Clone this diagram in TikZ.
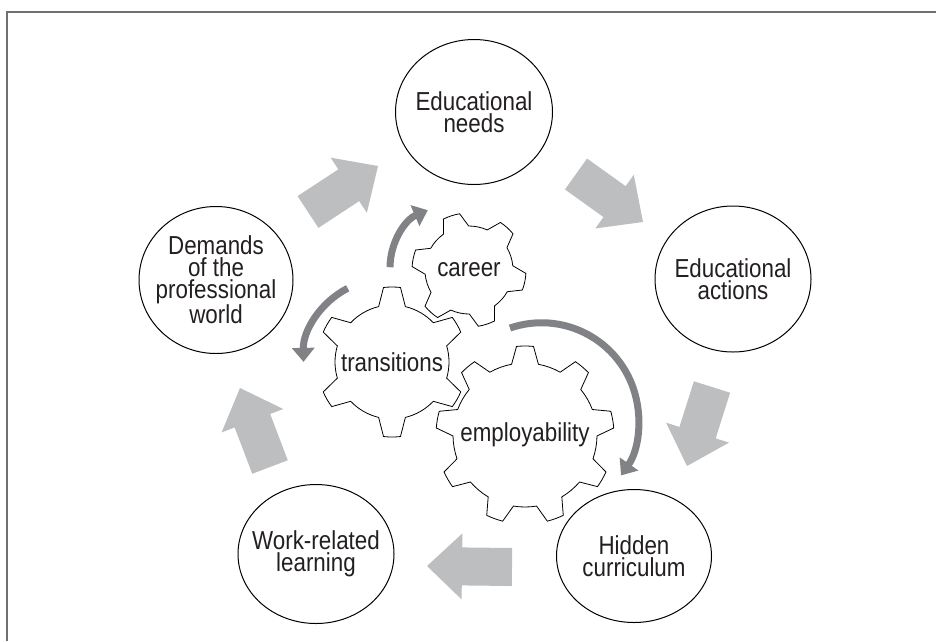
\documentclass[tikz,border=0pt]{standalone}
\usepackage{fontspec}
\setmainfont{Liberation Sans}[FakeStretch=0.86]
\usepackage{tikz}
\usetikzlibrary{arrows.meta,calc,shapes.geometric}

\definecolor{blockgray}{RGB}{189,190,192}
\definecolor{turngray}{RGB}{128,130,133}
\definecolor{inkgray}{RGB}{35,31,32}
\definecolor{framegray}{RGB}{112,112,112}

\newcommand{\stagefont}{\fontsize{26}{22}\selectfont}

% fat arrow from coordinate #1 (tail) to coordinate #2 (tip)
\newcommand{\blockarrow}[2]{%
  \coordinate (hb) at ($(#2)!35pt!(#1)$);
  \fill[block] ($(#1)!19pt!90:(#2)$) -- ($(hb)!19pt!90:(#2)$) -- ($(hb)!33pt!90:(#2)$)
    -- (#2) -- ($(hb)!33pt!-90:(#2)$) -- ($(hb)!19pt!-90:(#2)$) -- ($(#1)!19pt!-90:(#2)$) -- cycle;}

% gear round coordinate #1: #2 teeth, root radius #3, tip radius #4, first tooth at #5
\newcommand{\cogwheel}[5]{%
  \pgfmathsetmacro\cogstep{360/#2}
  \pgfmathsetmacro\cogroot{deg(13.5/#3)}
  \pgfmathsetmacro\cogtip{deg(8.5/#4)}
  \draw[gear,shift={(#1)}] ({#5-\cogroot}:#3pt)
    \foreach \k in {1,...,#2}{
      -- ({#5+(\k-1)*\cogstep-\cogtip}:#4pt)
      arc[start angle={#5+(\k-1)*\cogstep-\cogtip}, delta angle={2*\cogtip}, radius=#4pt]
      -- ({#5+(\k-1)*\cogstep+\cogroot}:#3pt)
      arc[start angle={#5+(\k-1)*\cogstep+\cogroot}, delta angle={\cogstep-2*\cogroot}, radius=#3pt]}
    -- cycle;}

\begin{document}
\begin{tikzpicture}[x=1pt,y=-1pt,
    stage/.style={ellipse,draw,line width=1pt,inner sep=-15pt,align=center,
                  text=inkgray,font=\stagefont},
    cog label/.style={inner sep=0pt,text=inkgray,font=\stagefont},
    gear/.style={draw=black,fill=white,line width=0.8pt,line join=miter},
    block/.style={fill=blockgray},
    turn/.style={draw=turngray,line width=7pt,-{Triangle[width=22pt,length=14pt]}}]

  \useasboundingbox (0,0) rectangle (936,641);
  \draw[framegray,line width=2pt] (7,641) -- (7,12) -- (936,12);

  \node[stage,minimum width=157pt,minimum height=145pt] (needs) at (474,112) {Educational\\needs};
  \node[stage,minimum width=156pt,minimum height=146pt] (actions) at (733,279) {Educational\\actions};
  \node[stage,minimum width=155pt,minimum height=133pt] (hidden) at (634,556) {Hidden\\curriculum};
  \node[stage,minimum width=156pt,minimum height=139pt] (worklearn) at (316,554) {Work-related\\learning};
  \node[stage,minimum width=154pt,minimum height=147pt] (demands) at (216,280) {Demands\\of the\\professional\\world};

  \coordinate (a1) at (308,212); \coordinate (b1) at (378,166);
  \coordinate (a2) at (576,174); \coordinate (b2) at (643,222);
  \coordinate (a3) at (712,387); \coordinate (b3) at (687,466);
  \coordinate (a4) at (512,567); \coordinate (b4) at (427,566);
  \coordinate (a5) at (270,467); \coordinate (b5) at (240,388);
  \blockarrow{a1}{b1}
  \blockarrow{a2}{b2}
  \blockarrow{a3}{b3}
  \blockarrow{a4}{b4}
  \blockarrow{a5}{b5}

  \coordinate (c-career) at (469,270);
  \coordinate (c-trans) at (392,362);
  \coordinate (c-employ) at (525,435);

  \cogwheel{c-career}{6}{44}{57}{108}
  \node[cog label] (career) at (c-career) {career};
  \cogwheel{c-trans}{6}{57}{75}{90}
  \node[cog label] (transitions) at (c-trans) {transitions};
  \cogwheel{c-employ}{9}{72}{89}{90}
  \node[cog label] (employ) at (c-employ) {employability};

  \draw[turn] ([shift={(178:79pt)}]c-career) arc[start angle=180, end angle=113, radius=62pt];
  \draw[turn] ([shift={(121:86pt)}]c-trans) arc[start angle=117, end angle=181, radius=81pt];
  \draw[turn] ([shift={(98:108pt)}]c-employ) arc[start angle=109, end angle=-35, radius=97pt];
\end{tikzpicture}
\end{document}
